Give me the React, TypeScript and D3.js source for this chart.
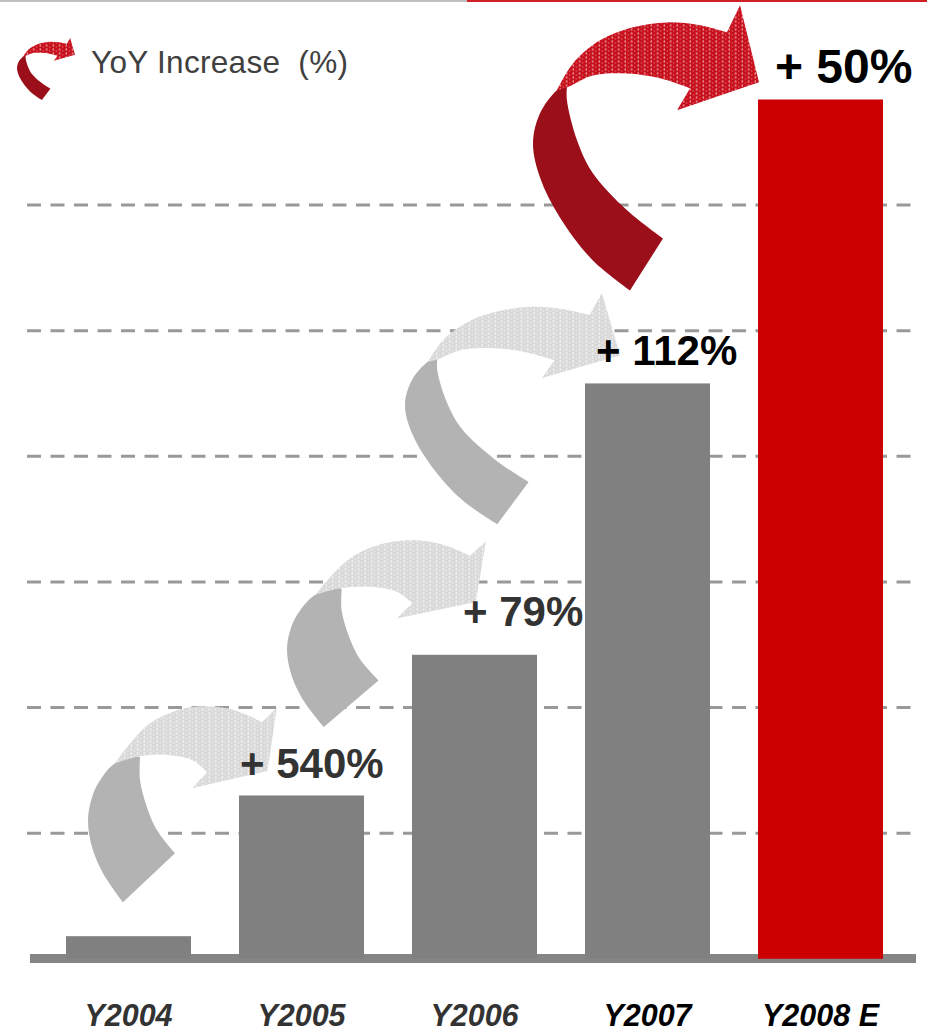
import * as d3 from "d3";

// bars
const categories = ["Y2004", "Y2005", "Y2006", "Y2007", "Y2008 E"];
const values = [18, 130, 242, 458, 684];
const growthLabels = ["", "+ 540%", "+ 79%", "+ 112%", "+ 50%"];
const gridTicks = [100, 200, 300, 400, 500, 600];

const barColors = ["#808080", "#808080", "#808080", "#808080", "#cc0000"];
const catColors = ["#333333", "#333333", "#333333", "#000000", "#000000"];
const growthColors = ["#333333", "#333333", "#333333", "#000000", "#000000"];
const growthSize = [42, 42, 42, 42, 48];
// label offsets from the bar's left edge / top
const growthDx = [0, 1, 51, 11, 17];
const growthDy = [0, -17.5, -29, -18.4, -16.5];

type Pt = [number, number];

// curved "twisted ribbon" arrow outlines, normalised to their bounding box
const shapes: Record<string, { solidOuter: Pt[]; solidInner: Pt[]; texOuter: Pt[]; head: Pt[]; texInner: Pt[] }> = {
  short: {
    solidOuter: [[0.182, 1.0], [0.078, 0.852], [0.021, 0.719], [0, 0.582], [0.021, 0.464], [0.063, 0.378], [0.141, 0.291], [0.26, 0.255]],
    solidInner: [[0.271, 0.26], [0.271, 0.378], [0.307, 0.515], [0.359, 0.633], [0.453, 0.75]],
    texOuter: [[0.141, 0.291], [0.203, 0.209], [0.323, 0.087], [0.464, 0.02], [0.583, 0], [0.724, 0.01], [0.844, 0.051], [0.906, 0.082]],
    head: [[0.984, 0.005], [0.935, 0.33], [0.542, 0.418], [0.62, 0.337]],
    texInner: [[0.62, 0.337], [0.547, 0.276], [0.427, 0.25], [0.271, 0.255], [0.141, 0.291]],
  },
  long: {
    solidOuter: [[0.429, 1.0], [0.265, 0.895], [0.119, 0.744], [0.031, 0.604], [0, 0.484], [0.031, 0.379], [0.106, 0.298], [0.142, 0.284]],
    solidInner: [[0.15, 0.288], [0.15, 0.333], [0.195, 0.474], [0.265, 0.589], [0.416, 0.719], [0.575, 0.818]],
    texOuter: [[0.106, 0.298], [0.177, 0.204], [0.296, 0.123], [0.442, 0.077], [0.593, 0.06], [0.739, 0.07], [0.858, 0.095]],
    head: [[0.916, 0], [1.0, 0.27], [0.637, 0.368], [0.695, 0.291]],
    texInner: [[0.695, 0.291], [0.562, 0.256], [0.416, 0.239], [0.265, 0.246], [0.15, 0.288], [0.106, 0.298]],
  },
};

// arrow boxes: x as fraction of bandwidth from the two bars, y in value units
const arrows = [
  { from: 0, f0: 0.176, f1: 0.328, top: 201, bottom: 45, shape: "short", tone: "gray" },
  { from: 1, f0: 0.384, f1: 0.616, top: 333, bottom: 184.5, shape: "short", tone: "gray" },
  { from: 2, f0: -0.056, f1: 0.28, top: 530, bottom: 346, shape: "long", tone: "gray" },
  { from: 3, f0: -0.416, f1: 0.008, top: 759, bottom: 532, shape: "long", tone: "red" },
];

const tones: Record<string, { solid: string; tex: string }> = {
  gray: { solid: "#b3b3b3", tex: "url(#texGray)" },
  red: { solid: "#9b0f1a", tex: "url(#texRed)" },
};

const smooth = d3.line<Pt>().curve(d3.curveCatmullRom.alpha(0.5));

function arrowPaths(shapeKey: string, box: { x0: number; x1: number; y0: number; y1: number }) {
  const s = shapes[shapeKey];
  const map = ([u, v]: Pt): Pt => [box.x0 + u * (box.x1 - box.x0), box.y0 + v * (box.y1 - box.y0)];
  const seg = (pts: Pt[]) => smooth(pts.map(map)) || "";
  const cont = (pts: Pt[]) => seg(pts).replace(/^M/, "L");
  const solid = seg(s.solidOuter) + cont(s.solidInner) + "Z";
  const head = s.head.map(map).map((p) => `L${p[0]},${p[1]}`).join("");
  const tex = seg(s.texOuter) + head + cont(s.texInner) + "Z";
  return { solid, tex };
}

function TexPattern({ id, base, a, b }: { id: string; base: string; a: number; b: number }) {
  return (
    <pattern id={id} width={6.5} height={4} patternUnits="userSpaceOnUse">
      <rect width={6.5} height={4} fill={base} />
      <rect x={0.6} y={0.3} width={1.3} height={2.3} fill="#fff" opacity={a} />
      <rect x={3.8} y={2.2} width={1.0} height={1.6} fill="#fff" opacity={b} />
    </pattern>
  );
}

export default function App() {
  const W = 927;
  const H = 1032;
  const x = d3.scaleBand<string>().domain(categories).range([66, 883]).paddingInner(0.2775);
  const y = d3.scaleLinear().domain([0, 700]).range([958.8, 79.4]);
  const bw = x.bandwidth();
  const font = "Arial, 'Liberation Sans', sans-serif";

  const arrowShapes = arrows.map((a) => {
    const box = {
      x0: (x(categories[a.from]) ?? 0) + a.f0 * bw,
      x1: (x(categories[a.from + 1]) ?? 0) + a.f1 * bw,
      y0: y(a.top),
      y1: y(a.bottom),
    };
    return { ...arrowPaths(a.shape, box), tone: tones[a.tone] };
  });
  const legendArrow = arrowPaths("long", { x0: 17, x1: 75, y0: 38, y1: 100 });

  return (
    <div style={{ position: "absolute", left: 0, top: 0 }}>
      <svg width={W} height={H} style={{ display: "block", background: "#fff" }}>
        <defs>
          <TexPattern id="texGray" base="#d9d9d9" a={0.75} b={0.5} />
          <TexPattern id="texRed" base="#c8101c" a={0.6} b={0.35} />
        </defs>

        {/* top rule */}
        <rect x={0} y={0} width={467} height={2} fill="#c0c0c0" />
        <rect x={467} y={0} width={W - 467} height={2} fill="#cf1f27" />

        {/* legend */}
        <path d={legendArrow.solid} fill="#9b0f1a" />
        <path d={legendArrow.tex} fill="url(#texRed)" />
        <text x={91} y={73} fontFamily={font} fontSize={31.5} letterSpacing={0.3} fill="#404040" style={{ whiteSpace: "pre" }}>
          {"YoY Increase  (%)"}
        </text>

        {/* grid */}
        {gridTicks.map((t) => (
          <line key={t} x1={27} x2={920} y1={y(t)} y2={y(t)} stroke="#999" strokeWidth={3} strokeDasharray="14,9.5" />
        ))}

        {/* axis */}
        <rect x={30} y={954} width={886} height={9} fill="#858585" />

        {/* bars */}
        {categories.map((c, i) => (
          <rect key={c} x={x(c)} y={y(values[i])} width={bw} height={y(0) - y(values[i])} fill={barColors[i]} />
        ))}

        {/* growth arrows */}
        {arrowShapes.map((a, i) => (
          <g key={i}>
            <path d={a.solid} fill={a.tone.solid} />
            <path d={a.tex} fill={a.tone.tex} />
          </g>
        ))}

        {/* growth labels */}
        {categories.map((c, i) =>
          growthLabels[i] ? (
            <text
              key={c}
              x={(x(c) ?? 0) + growthDx[i]}
              y={y(values[i]) + growthDy[i]}
              fontFamily={font}
              fontWeight="bold"
              fontSize={growthSize[i]}
              fill={growthColors[i]}
              style={{ whiteSpace: "pre" }}
            >
              {growthLabels[i]}
            </text>
          ) : null
        )}

        {/* category labels */}
        {categories.map((c, i) => (
          <text
            key={c}
            x={(x(c) ?? 0) + bw / 2}
            y={1026}
            textAnchor="middle"
            fontFamily={font}
            fontWeight="bold"
            fontStyle="italic"
            fontSize={30.5}
            fill={catColors[i]}
          >
            {c}
          </text>
        ))}
      </svg>
    </div>
  );
}
